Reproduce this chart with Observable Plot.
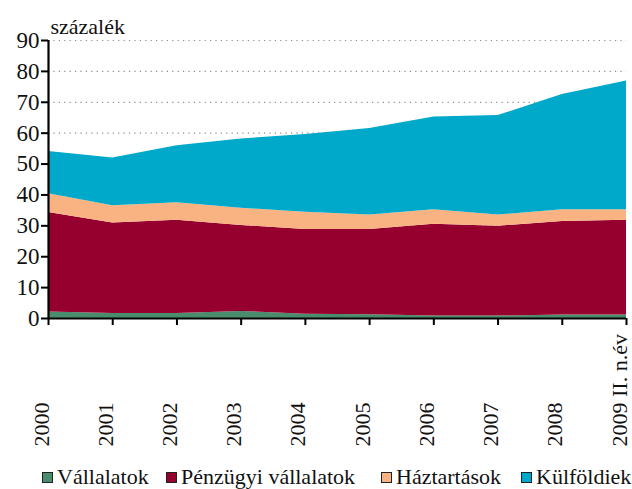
<!DOCTYPE html>
<html>
<head>
<meta charset="utf-8">
<script src="https://cdn.jsdelivr.net/npm/d3@7"></script>
<script src="https://cdn.jsdelivr.net/npm/@observablehq/plot@0.6"></script>
</head>
<body style="margin:0;background:#fff;font-family:'Liberation Serif';">
<div id="wrap" style="width:632px;position:relative;font-family:'Liberation Serif';"></div>
<script>
const years = ["2000", "2001", "2002", "2003", "2004", "2005", "2006", "2007", "2008", "2009 II. n.év"];
const seriesNames = ["Vállalatok", "Pénzügyi vállalatok", "Háztartások", "Külföldiek"];
const colors = ["#4a8d6e", "#96002e", "#f9b382", "#00a9c9"];
const vallalatok = [2.1, 1.6, 1.6, 2.3, 1.4, 1.2, 0.8, 0.8, 1.1, 1.1];
const penzugyi = [32.2, 29.3, 30.2, 27.8, 27.4, 27.6, 29.7, 29.1, 30.3, 30.7];
const haztartasok = [6.1, 5.6, 5.7, 5.6, 5.6, 4.7, 4.7, 3.6, 3.8, 3.4];
const kulfoldiek = [13.7, 15.5, 18.4, 22.4, 25.2, 28.0, 30.0, 32.2, 37.3, 41.7];
const yTicks = [0, 10, 20, 30, 40, 50, 60, 70, 80, 90];
const yLabel = "százalék";

const FONT = "'Liberation Serif'";
const seriesValues = [vallalatok, penzugyi, haztartasok, kulfoldiek];
const data = [];
seriesNames.forEach((s, k) => {
  seriesValues[k].forEach((v, i) => data.push({i, year: years[i], series: s, value: v}));
});
const idx = years.map((_, i) => i);

const chart = Plot.plot({
  width: 632,
  height: 452,
  marginTop: 40,
  marginBottom: 134,
  marginLeft: 48,
  marginRight: 6,
  style: { fontFamily: FONT, fontSize: "22px", color: "#111", background: "#fff" },
  x: { type: "linear", domain: [0, years.length - 1] },
  y: { domain: [0, 90] },
  color: { domain: seriesNames, range: colors },
  marks: [
    Plot.gridY(yTicks.slice(1), { stroke: "#8a8a8a", strokeOpacity: 1, strokeWidth: 1.2, strokeDasharray: "1.2,4.2" }),
    Plot.areaY(data, { x: "i", y: "value", fill: "series", z: "series", order: seriesNames }),
    Plot.axisY({ ticks: yTicks, tickSize: 7, tickPadding: 2, tickFormat: d => String(d), label: null, fontSize: 23, fontFamily: FONT, strokeWidth: 2, stroke: "#000" }),
    Plot.axisX({ ticks: idx, tickSize: 7, tickFormat: () => "", label: null, strokeWidth: 2, stroke: "#000" }),
    Plot.ruleX([0], { stroke: "#000", strokeWidth: 2.2 }),
    Plot.ruleY([0], { stroke: "#000", strokeWidth: 2.2 }),
    Plot.text(years, { x: (d, i) => i, text: d => d, frameAnchor: "bottom", dy: 128, rotate: -90, textAnchor: "start", fontSize: 22, fontFamily: FONT, fill: "#111" }),
    Plot.text([yLabel], { frameAnchor: "top-left", dx: 2, dy: -7, lineAnchor: "bottom", textAnchor: "start", fontSize: 22, fontFamily: FONT, fill: "#111" })
  ]
});
const wrap = document.getElementById("wrap");
wrap.appendChild(chart);
chart.style.setProperty("font-family", FONT, "important");
chart.querySelectorAll("text, g").forEach(el => el.style.setProperty("font-family", FONT, "important"));

const legend = document.createElement("div");
legend.style.cssText = "position:relative;height:37px;width:632px;";
const lefts = [42, 166, 381, 521];
seriesNames.forEach((s, k) => {
  const it = document.createElement("div");
  it.style.cssText = "position:absolute;top:14px;display:flex;align-items:center;font-size:22px;line-height:22px;color:#111;white-space:nowrap;left:" + lefts[k] + "px;";
  it.style.setProperty("font-family", FONT, "important");
  const sw = document.createElement("span");
  sw.style.cssText = "width:9px;height:9px;border:1px solid #222;margin-right:4px;display:inline-block;background:" + colors[k] + ";";
  it.appendChild(sw);
  it.appendChild(document.createTextNode(s));
  legend.appendChild(it);
});
wrap.appendChild(legend);
</script>
</body>
</html>
